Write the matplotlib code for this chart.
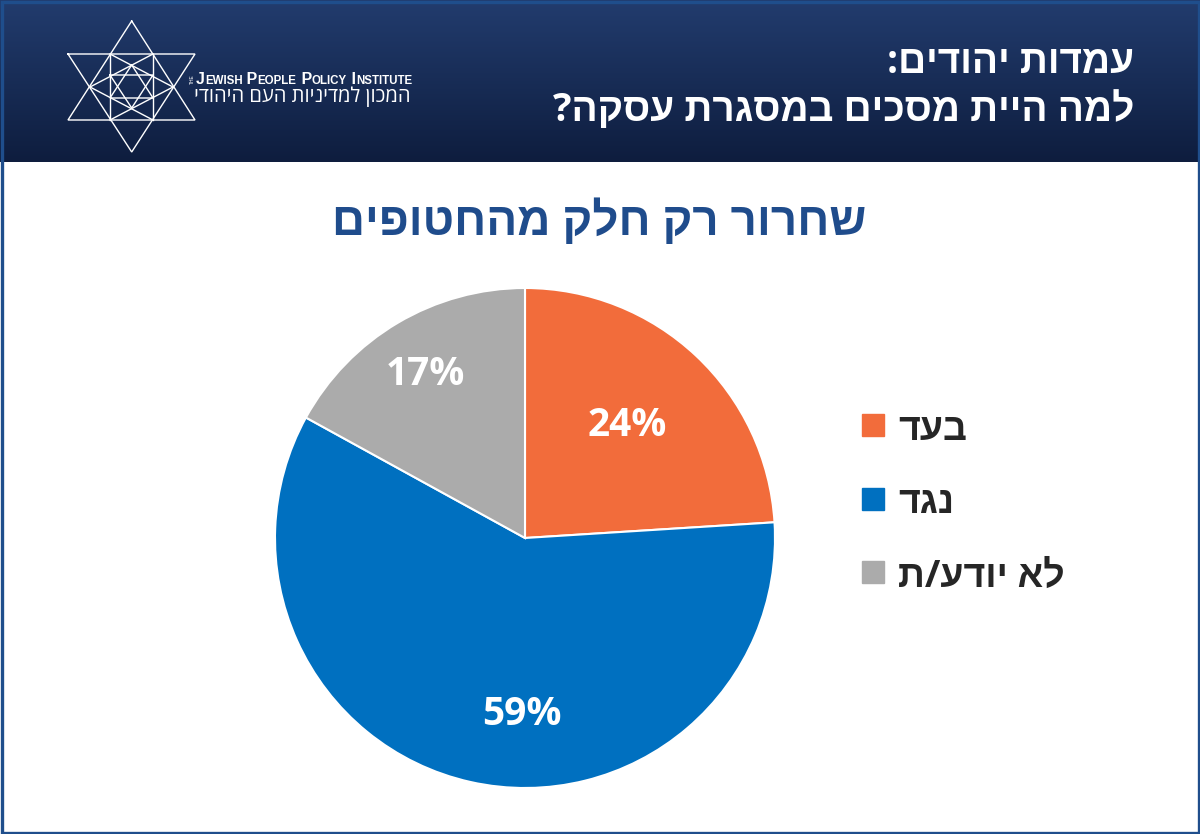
import numpy as np
import matplotlib.pyplot as plt
from matplotlib.colors import LinearSegmentedColormap
from matplotlib.patches import Rectangle

HEB = ["Open Sans", "Liberation Sans", "DejaVu Sans"]
LAT = ["Liberation Sans Narrow", "Liberation Sans", "DejaVu Sans"]

# chart data
title_lines = ["עמדות יהודים:", "למה היית מסכים במסגרת עסקה?"]
subtitle = "שחרור רק חלק מהחטופים"
categories = ["בעד", "נגד", "לא יודע/ת"]
values = [24, 59, 17]
colors = ["#F26C3B", "#0070C0", "#ABABAB"]
logo_en = ["JEWISH", "PEOPLE", "POLICY", "INSTITUTE"]
logo_he = "המכון למדיניות העם היהודי"


def rtl(s):
    # matplotlib has no bidi support, so Hebrew is reversed by hand
    return s[::-1]


fig = plt.figure(figsize=(12, 8.34), dpi=100)
bg = fig.add_axes([0, 0, 1, 1])

# header band with a vertical gradient
grad = np.linspace(0, 1, 256).reshape(-1, 1)
cmap = LinearSegmentedColormap.from_list("hdr", ["#223c6e", "#0e1d3e"])
bg.imshow(grad, extent=[0, 1200, 162, 0], aspect="auto", cmap=cmap, origin="upper")
bg.set_xlim(0, 1200)
bg.set_ylim(834, 0)
bg.axis("off")
bg.add_patch(Rectangle((1.5, 1.5), 1197, 831, fill=False, ec="#1F4E8C", lw=2.4))

# logo: nested star of David
cx = 131.7
logo_lines = [
    [(cx, 21), (68, 120), (195, 120), (cx, 21)],
    [(68, 54), (195, 54), (cx, 152), (68, 54)],
    [(110, 54), (110, 120)],
    [(153, 54), (153, 120)],
    [(90, 87), (153, 54)],
    [(90, 87), (153, 120)],
    [(173, 87), (110, 54)],
    [(173, 87), (110, 120)],
    [(cx, 65), (110, 98), (153, 98), (cx, 65)],
    [(110, 75), (153, 75), (cx, 108), (110, 75)],
]
for seg in logo_lines:
    xs, ys = zip(*seg)
    bg.plot(xs, ys, color="white", lw=1.0, solid_joinstyle="miter")

bg.text(192, 79, "THE", rotation=90, fontsize=3.5, color="white",
        ha="center", va="center", family=LAT)
prev = None
for i, word in enumerate(logo_en):
    if prev is None:
        t = bg.text(196, 87, word[0], fontsize=11.5, color="white",
                    ha="left", va="bottom", family=LAT, weight="bold")
    else:
        t = bg.annotate(" " + word[0], xy=(1, 0), xycoords=prev, fontsize=11.5,
                        color="white", ha="left", va="bottom", family=LAT,
                        weight="bold")
    prev = bg.annotate(word[1:], xy=(1, 0), xycoords=t, fontsize=8.3,
                       color="white", ha="left", va="bottom", family=LAT,
                       weight="bold")
bg.text(410, 97, rtl(logo_he), fontsize=14.5, color="white", ha="right",
        va="center", family=HEB)

# title
bg.text(1134, 62, rtl(title_lines[0]), fontsize=28, color="white",
        ha="right", va="center", family=HEB, weight="bold")
bg.text(1134, 110, rtl(title_lines[1]), fontsize=28, color="white",
        ha="right", va="center", family=HEB, weight="bold")

# subtitle
bg.text(599, 222, rtl(subtitle), fontsize=33, color="#1F4C8C",
        ha="center", va="center", family=HEB, weight="bold")

# pie
ax = fig.add_axes([275 / 1200, 46 / 834, 500 / 1200, 500 / 834])
ax.pie(values, colors=colors, startangle=90, counterclock=False, radius=1,
       wedgeprops=dict(edgecolor="white", linewidth=1.5))
ax.set_xlim(-1, 1)
ax.set_ylim(-1, 1)
ax.set_aspect("equal")
ax.axis("off")

label_r = [0.62, 0.69, 0.78]
label_nudge = [2, 11.5, 0]
start = 90.0
total = sum(values)
for v, r, nd in zip(values, label_r, label_nudge):
    span = v / total * 360
    mid = np.deg2rad(start - span / 2 + nd)
    ax.text(r * np.cos(mid), r * np.sin(mid), f"{v}%", fontsize=28,
            color="white", ha="center", va="center_baseline", family=HEB,
            weight="bold")
    start -= span

# legend
for i, (cat, col) in enumerate(zip(categories, colors)):
    y = 425 + i * 73.5
    bg.add_patch(Rectangle((862, y - 11), 22, 22, color=col))
    bg.text(898, y, rtl(cat), fontsize=27, color="#262626", ha="left",
            va="center_baseline", family=HEB, weight="bold")

fig.savefig("out.png", dpi=100)
